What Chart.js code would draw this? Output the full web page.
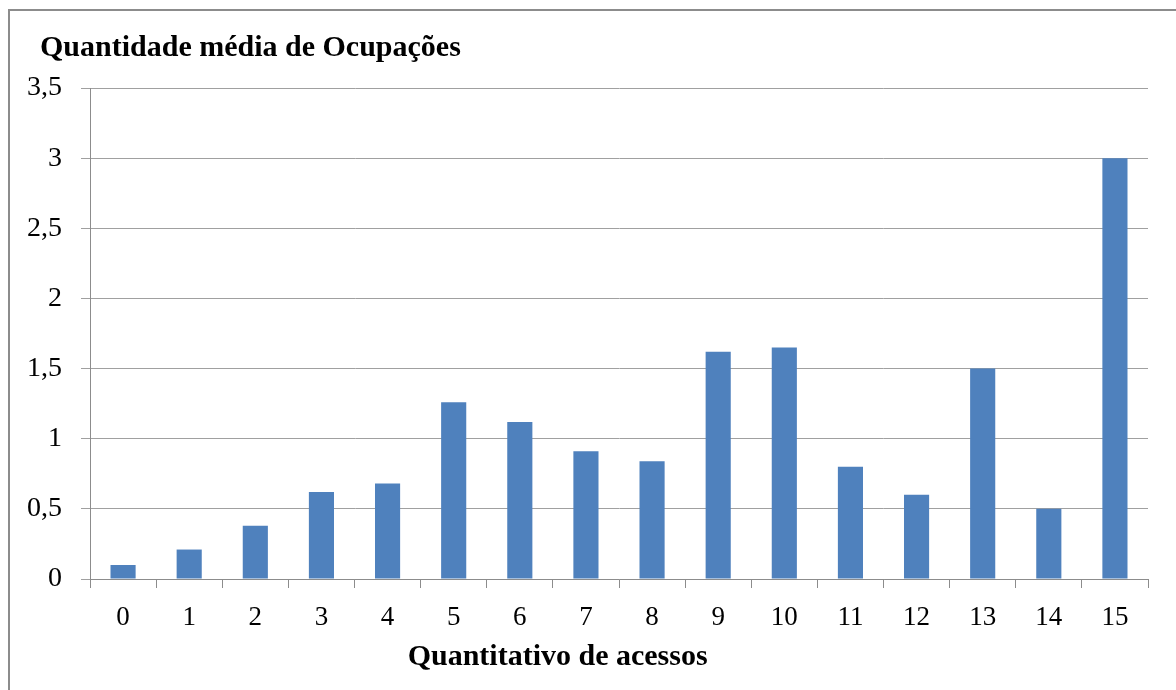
<!DOCTYPE html>
<html>
<head>
<meta charset="utf-8">
<script src="https://cdn.jsdelivr.net/npm/chart.js@4.4.0/dist/chart.umd.min.js"></script>
<style>
body { margin: 0; background: #fff; }
#moldura { position: absolute; left: 8px; top: 9px; width: 1200px; height: 720px; border: 2px solid #8c8c8c; }
#grafico { position: absolute; left: 0; top: 0; }
</style>
</head>
<body>
<div id="moldura"></div>
<canvas id="grafico" width="1176" height="690"></canvas>
<script>
var acessos = ["0", "1", "2", "3", "4", "5", "6", "7", "8", "9", "10", "11", "12", "13", "14", "15"];
var mediaOcupacoes = [0.10, 0.21, 0.38, 0.62, 0.68, 1.26, 1.12, 0.91, 0.84, 1.62, 1.65, 0.80, 0.60, 1.50, 0.50, 3.00];
var tituloGrafico = "Quantidade média de Ocupações";
var tituloEixoX = "Quantitativo de acessos";

var fonteSerif = '"Liberation Serif", "Times New Roman", serif';

// titulos desenhados na mesma posicao do original (fora do centro do eixo)
var pluginTitulos = {
    id: 'titulos',
    afterDraw: function (chart) {
        var ctx = chart.ctx;
        var area = chart.chartArea;
        ctx.save();
        ctx.fillStyle = '#000';
        ctx.font = 'bold 30px ' + fonteSerif;
        ctx.textBaseline = 'alphabetic';
        ctx.textAlign = 'left';
        ctx.fillText(tituloGrafico, 40, 56);
        ctx.textAlign = 'center';
        ctx.fillText(tituloEixoX, area.left + (area.right - area.left) * 0.442, 665);
        ctx.restore();
    }
};

var graficoOcupacoes = new Chart(document.getElementById('grafico').getContext('2d'), {
    type: 'bar',
    data: {
        labels: acessos,
        datasets: [{
            label: tituloGrafico,
            data: mediaOcupacoes,
            backgroundColor: '#4f81bd',
            borderColor: '#4f81bd',
            borderWidth: 0,
            categoryPercentage: 1,
            barPercentage: 0.38
        }]
    },
    options: {
        responsive: false,
        animation: false,
        layout: {
            padding: { top: 88, right: 28, bottom: 0, left: 0 }
        },
        plugins: {
            legend: { display: false },
            tooltip: { enabled: false }
        },
        scales: {
            x: {
                grid: {
                    offset: true,
                    drawOnChartArea: false,
                    color: '#8c8c8c',
                    tickLength: 9
                },
                border: { color: '#8c8c8c', width: 1 },
                ticks: {
                    color: '#000',
                    padding: 14,
                    maxRotation: 0,
                    font: { family: fonteSerif, size: 27 }
                },
                afterFit: function (scale) { scale.height = 111; }
            },
            y: {
                min: 0,
                max: 3.5,
                grid: {
                    color: '#a0a0a0',
                    tickLength: 9
                },
                border: { color: '#8c8c8c', width: 1 },
                ticks: {
                    stepSize: 0.5,
                    color: '#000',
                    padding: 19,
                    font: { family: fonteSerif, size: 28 },
                    callback: function (valor) {
                        return String(valor).replace('.', ',');
                    }
                },
                afterFit: function (scale) { scale.width = 90; }
            }
        }
    },
    plugins: [pluginTitulos]
});
</script>
</body>
</html>
